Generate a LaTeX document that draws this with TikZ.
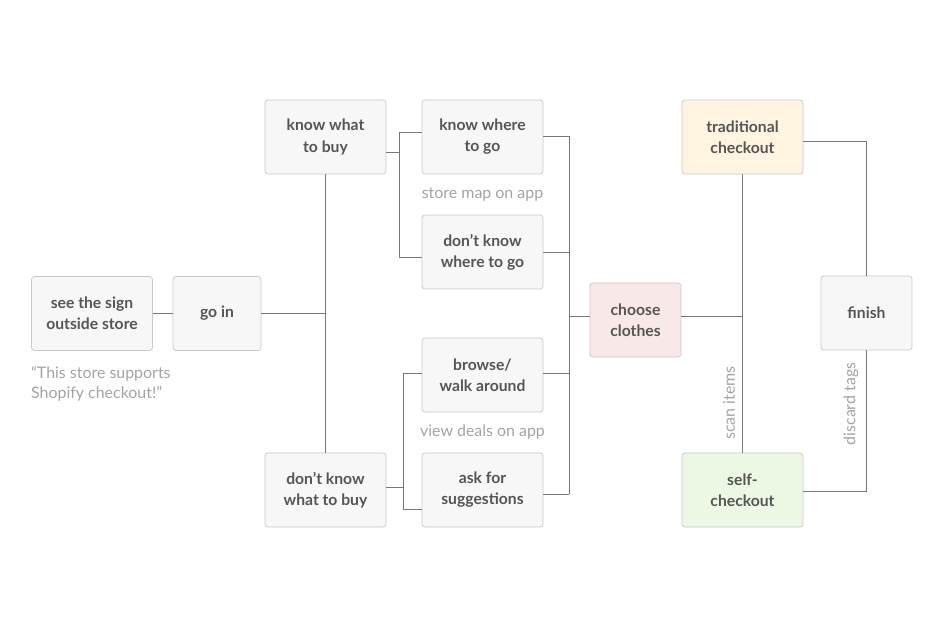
\documentclass[tikz,border=0pt]{standalone}
\usepackage{fontspec}
\setmainfont{Lato}
\definecolor{boxfill}{HTML}{F7F7F7}
\definecolor{boxline}{HTML}{C8C8C8}
\definecolor{inktext}{HTML}{555555}
\definecolor{notetext}{HTML}{A3A3A3}
\definecolor{linkgray}{HTML}{777777}
\definecolor{tradfill}{HTML}{FFF4E0}
\definecolor{selffill}{HTML}{EDF8E4}
\definecolor{choosefill}{HTML}{F8E8E8}
\tikzset{
  stepbox/.style={draw=boxline, fill=boxfill, line width=0.6pt, rounded corners=0.09cm,
    minimum width=3.63cm, minimum height=2.22cm, align=center, text=inktext,
    font=\fontsize{13.4}{18}\selectfont\bfseries},
  link/.style={draw=linkgray, line width=0.7pt},
  note/.style={text=notetext, font=\fontsize{13.6}{17}\selectfont}
}
\begin{document}
\begin{tikzpicture}[x=0.03cm,y=-0.03cm]
  \useasboundingbox (0,0) rectangle (940,627);
  % boxes
  \node[stepbox] (seesign) at (92,313.5) {see the sign\\outside store};
  \node[stepbox, minimum width=2.64cm] (goin) at (217,313.5) {go in};
  \node[stepbox] (knowwhat) at (325.5,137) {know what\\to buy};
  \node[stepbox] (dontwhat) at (325.5,490) {don’t know\\what to buy};
  \node[stepbox] (knowwhere) at (482.5,137) {know where\\to go};
  \node[stepbox] (dontwhere) at (482.5,252) {don’t know\\where to go};
  \node[stepbox] (browse) at (482.5,375) {browse/\\walk around};
  \node[stepbox] (askfor) at (482.5,490) {ask for\\suggestions};
  \node[stepbox, minimum width=2.73cm, fill=choosefill] (choose) at (635.5,320) {choose\\clothes};
  \node[stepbox, fill=tradfill] (trad) at (742.5,137) {traditional\\checkout};
  \node[stepbox, fill=selffill] (selfco) at (742.5,490) {self-\\checkout};
  \node[stepbox, minimum width=2.73cm, fill=boxfill] (finish) at (866.5,313) {finish};
  % notes
  \node[note, align=left, anchor=north west] (quote) at (27,362) {“This store supports\\Shopify checkout!”};
  \node[note] (mapnote) at (482.5,195) {store map on app};
  \node[note] (dealnote) at (482.5,432) {view deals on app};
  \node[note, rotate=90] (scannote) at (729,403) {scan items};
  \node[note, rotate=90] (tagnote) at (851,404) {discard tags};
  % junctions
  \coordinate (upfork) at (399,152);
  \coordinate (upa) at (399,132);
  \coordinate (upb) at (399,257);
  \coordinate (lowfork) at (403,487);
  \coordinate (lowa) at (403,373);
  \coordinate (lowb) at (403,509);
  \coordinate (bustop) at (569,136);
  \coordinate (busbot) at (569,494);
  \coordinate (busmid) at (569,316);
  \coordinate (paytop) at (742,174);
  \coordinate (paymid) at (743,316);
  \coordinate (endtop) at (866,141);
  \coordinate (endbot) at (866,491);
  % links
  \draw[link] (seesign) -- (goin);
  \draw[link] (goin.east) -- (goin.east -| knowwhat.south);
  \draw[link] (knowwhat.south) -- (dontwhat.north);
  \draw[link] (knowwhat.east |- upfork) -- (upfork);
  \draw[link] (upa) -- (upb);
  \draw[link] (upa) -- (upa -| knowwhere.west);
  \draw[link] (upb) -- (upb -| dontwhere.west);
  \draw[link] (dontwhat.east |- lowfork) -- (lowfork);
  \draw[link] (lowa) -- (lowb);
  \draw[link] (lowa) -- (lowa -| browse.west);
  \draw[link] (lowb) -- (lowb -| askfor.west);
  \draw[link] (bustop) -- (busbot);
  \draw[link] (knowwhere.east |- bustop) -- (bustop);
  \draw[link] (dontwhere.east) -- (dontwhere.east -| bustop);
  \draw[link] (browse.east |- lowa) -- (lowa -| bustop);
  \draw[link] (askfor.east |- busbot) -- (busbot);
  \draw[link] (busmid) -- (choose.west |- busmid);
  \draw[link] (choose.east |- paymid) -- (paymid);
  \draw[link] (trad.south) -- (selfco.north);
  \draw[link] (trad.east |- endtop) -- (endtop) -- (finish.north -| endtop);
  \draw[link] (finish.south -| endbot) -- (endbot) -- (selfco.east |- endbot);
\end{tikzpicture}
\end{document}
